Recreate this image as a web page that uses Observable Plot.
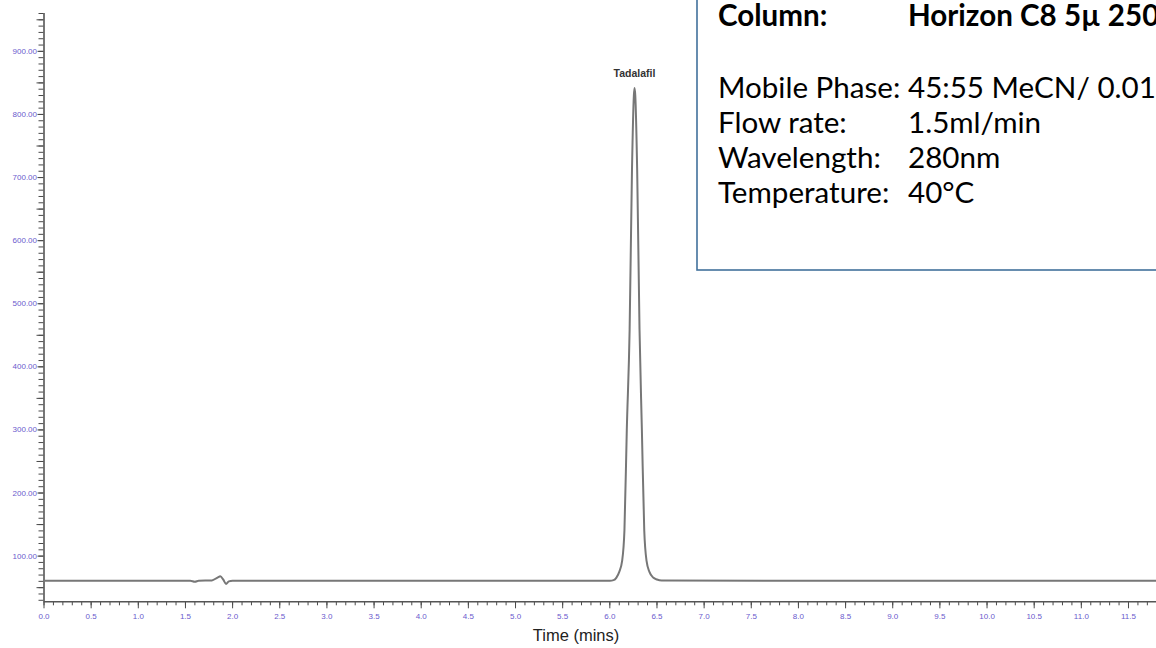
<!DOCTYPE html>
<html><head><meta charset="utf-8">
<script src="https://cdn.jsdelivr.net/npm/d3@7"></script>
<script src="https://cdn.jsdelivr.net/npm/@observablehq/plot@0.6"></script>
<style>
html,body{margin:0;padding:0;background:#fff;overflow:hidden;width:1156px;height:648px}
#wrap{position:relative;width:1156px;height:648px;overflow:hidden}
#chart{position:absolute;left:0;top:0}
#box{position:absolute;left:0;top:0}
</style></head><body>
<div id="wrap"><div id="chart"></div><svg id="box" width="1156" height="648"></svg></div>
<script>
// ---- data ----
const timeMin = [0, 1.55, 1.60, 1.64, 1.78, 1.84, 1.87, 1.90, 1.93, 1.96, 2.00, 4.0, 6.00, 6.04, 6.07, 6.10, 6.13, 6.155, 6.18, 6.21, 6.235, 6.255, 6.262, 6.27, 6.29, 6.315, 6.34, 6.365, 6.39, 6.42, 6.46, 6.50, 6.55, 8.0, 10.0, 11.8];
const signal  = [61, 61, 59.5, 61, 61.5, 66, 68, 63, 56, 60, 61, 61, 61, 62, 66, 75, 92, 141, 300, 459, 712, 830, 842, 830, 712, 459, 300, 141, 92, 75, 66, 63, 61.5, 61, 61, 61];
const peakNames = ["Tadalafil"];
const peakTimes = [6.262];
const peakSignals = [842];
const xTickValues = [0, 0.5, 1, 1.5, 2, 2.5, 3, 3.5, 4, 4.5, 5, 5.5, 6, 6.5, 7, 7.5, 8, 8.5, 9, 9.5, 10, 10.5, 11, 11.5];
const yTickValues = [100, 200, 300, 400, 500, 600, 700, 800, 900];
const boxLabels = ["Column:", "Mobile Phase:", "Flow rate:", "Wavelength:", "Temperature:"];
const boxValues = ["Horizon C8 5\u00b5 250x", "45:55 MeCN/ 0.01%", "1.5ml/min", "280nm", "40\u00b0C"];
const boxBold = [true, false, false, false, false];

const data = timeMin.map((t, i) => ({t, v: signal[i]}));
const peaks = peakNames.map((n, i) => ({n, t: peakTimes[i], v: peakSignals[i]}));

const xDomain = [0, 11.797];
const yDomain = [27.6, 960];
const tickInk = "#4a4a4a";
const labelInk = "#6a5acd";

const xMinor = d3.range(0, 11.8, 0.1);
const yMinor = d3.range(30, 961, 10);
const yMid = d3.range(50, 951, 100);

const chart = Plot.plot({
  width: 1156, height: 648,
  marginLeft: 43.5, marginRight: 0, marginTop: 13, marginBottom: 46.7,
  style: {fontFamily: "'Liberation Sans', Arial, sans-serif", background: "#fff"},
  x: {domain: xDomain},
  y: {domain: yDomain},
  marks: [
    Plot.axisX({ticks: xMinor, tickSize: 4, tickFormat: () => "", stroke: tickInk, label: null}),
    Plot.axisX({ticks: xTickValues, tickSize: 7, tickPadding: 5, tickFormat: d => d.toFixed(1), fill: labelInk, stroke: tickInk, fontSize: 8, label: null}),
    Plot.axisY({ticks: yMinor, tickSize: 5, tickFormat: () => "", stroke: tickInk, label: null}),
    Plot.axisY({ticks: yMid, tickSize: 7, tickFormat: () => "", stroke: tickInk, label: null}),
    Plot.axisY({ticks: yTickValues, tickSize: 6, tickPadding: 1, tickFormat: d => d.toFixed(2), fill: labelInk, stroke: tickInk, fontSize: 8, label: null}),
    Plot.ruleX([0], {stroke: "#555", strokeWidth: 1.6}),
    Plot.ruleY([yDomain[0]], {stroke: "#555", strokeWidth: 1.6}),
    Plot.line(data, {x: "t", y: "v", stroke: "#777", strokeWidth: 2, curve: "monotone-x"}),
    Plot.text(peaks, {x: "t", y: "v", text: "n", dy: -14, fontWeight: "bold", fontSize: 10.5, fill: "#333"})
  ]
});
document.getElementById("chart").appendChild(chart);

// x axis title
const svg = d3.select(chart);
svg.append("text").attr("x", 576).attr("y", 641).attr("text-anchor", "middle")
  .attr("font-size", 16.5).attr("fill", "#222").text("Time (mins)");

// annotation box
const box = d3.select("#box");
const ctx = document.createElement("canvas").getContext("2d");
ctx.font = "100px Lato";
const fs = 100 * 190 / ctx.measureText("Mobile Phase: ").width;
box.append("rect").attr("x", 697).attr("y", -20).attr("width", 520).attr("height", 290)
  .attr("fill", "#fff").attr("stroke", "#41719c").attr("stroke-width", 1.6);
const baselines = [25.5, 98, 133, 168, 203];
boxLabels.forEach((l, i) => {
  const w = boxBold[i] ? "bold" : "normal";
  box.append("text").attr("x", 718).attr("y", baselines[i]).attr("font-family", "Lato")
    .attr("font-size", fs).attr("font-weight", w).attr("fill", "#000").text(l);
  box.append("text").attr("x", 908).attr("y", baselines[i]).attr("font-family", "Lato")
    .attr("font-size", fs).attr("font-weight", w).attr("fill", "#000").text(boxValues[i]);
});
</script>
</body></html>
